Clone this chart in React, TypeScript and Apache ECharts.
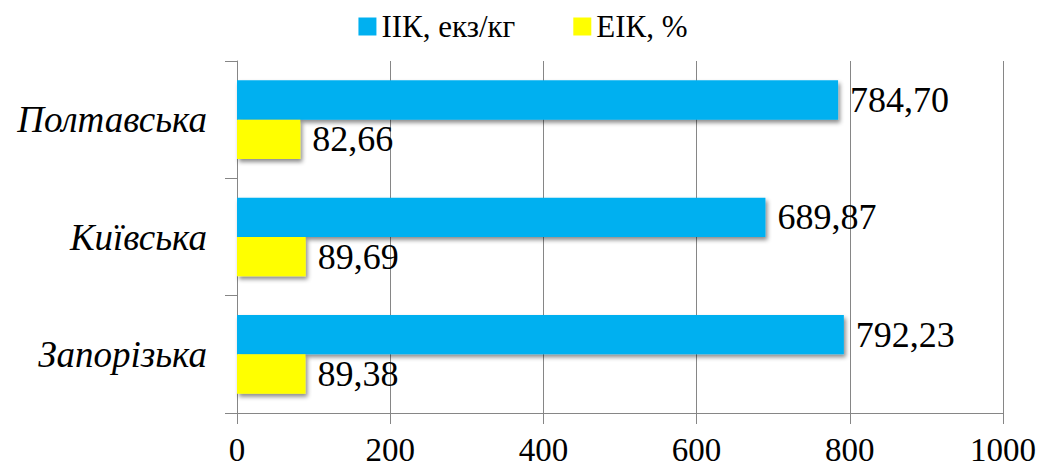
import React, { useEffect, useRef } from "react";
import * as echarts from "echarts";

const categories = ["Запорізька", "Київська", "Полтавська"];
const iikValues = [792.23, 689.87, 784.7];
const eikValues = [89.38, 89.69, 82.66];
const seriesNames = ["ІІК, екз/кг", "ЕІК, %"];
const xTicks = { min: 0, max: 1000, interval: 200 };

const FONT = "Liberation Serif";
const fmt = (v: number) => v.toFixed(2).replace(".", ",");

export default function App() {
  const ref = useRef<HTMLDivElement>(null);
  useEffect(() => {
    document.body.style.margin = "0";
    const chart = echarts.init(ref.current!, null, { renderer: "svg" });
    const shadow = {
      shadowColor: "rgba(0,0,0,0.45)",
      shadowBlur: 4,
      shadowOffsetX: 2,
      shadowOffsetY: 3,
    };
    const labelStyle = {
      show: true,
      position: "right",
      distance: 12,
      formatter: (p: any) => "{n|" + fmt(p.value) + "}",
      fontFamily: FONT,
      fontStyle: "normal",
      fontSize: 36,
      color: "#000",
      rich: {
        n: { fontFamily: FONT, fontStyle: "normal", fontSize: 36, color: "#000" },
      },
    };
    chart.setOption({
      animation: false,
      backgroundColor: "#ffffff",
      textStyle: { fontFamily: FONT },
      legend: {
        data: seriesNames,
        top: 6,
        left: "center",
        itemWidth: 18,
        itemHeight: 18,
        itemGap: 58,
        icon: "rect",
        textStyle: { fontFamily: FONT, fontSize: 31, color: "#000" },
      },
      grid: { left: 237, right: 43, top: 61, bottom: 62, containLabel: false },
      xAxis: {
        type: "value",
        min: xTicks.min,
        max: xTicks.max,
        interval: xTicks.interval,
        axisLine: { show: true, lineStyle: { color: "#868686", width: 1 } },
        axisTick: { show: true, length: 11, lineStyle: { color: "#868686" } },
        splitLine: { show: true, lineStyle: { color: "#868686", width: 1 } },
        axisLabel: {
          fontFamily: FONT,
          fontStyle: "normal",
          fontSize: 33,
          color: "#000",
          margin: 20,
          formatter: (v: number) => "{n|" + String(v) + "}",
          rich: {
            n: { fontFamily: FONT, fontStyle: "normal", fontSize: 33, color: "#000" },
          },
        },
      },
      yAxis: {
        type: "category",
        data: categories,
        axisLine: { show: true, lineStyle: { color: "#868686", width: 1 } },
        axisTick: { show: true, length: 12, lineStyle: { color: "#868686" } },
        axisLabel: {
          fontFamily: FONT,
          fontSize: 37,
          fontStyle: "italic",
          color: "#000",
          margin: 30,
        },
      },
      series: [
        {
          name: seriesNames[0],
          type: "bar",
          data: iikValues,
          barGap: "0%",
          barCategoryGap: "33%",
          itemStyle: { color: "#00B0F0", ...shadow },
          label: { ...labelStyle },
        },
        {
          name: seriesNames[1],
          type: "bar",
          data: eikValues,
          barGap: "0%",
          barCategoryGap: "33%",
          itemStyle: { color: "#FFFF00", ...shadow },
          label: { ...labelStyle },
        },
      ],
    });
    return () => chart.dispose();
  }, []);
  return <div ref={ref} style={{ width: 1046, height: 475 }} />;
}
